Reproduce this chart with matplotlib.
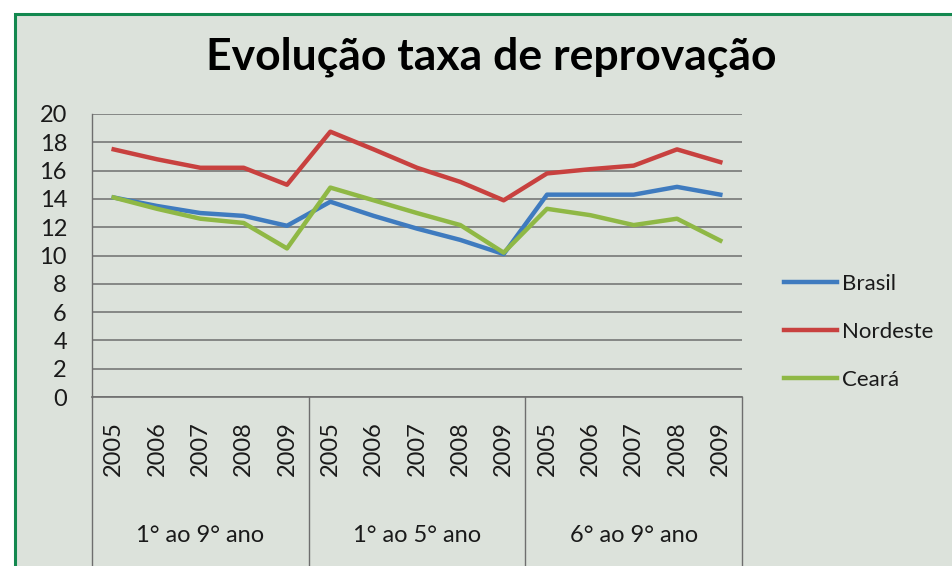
import matplotlib
matplotlib.use("Agg")
import matplotlib.pyplot as plt
import matplotlib.transforms as mtransforms
from matplotlib.patches import Rectangle

years = ["2005", "2006", "2007", "2008", "2009"]
groups = ["1° ao 9° ano", "1° ao 5° ano", "6° ao 9° ano"]
brasil = [14.1, 13.5, 13.0, 12.8, 12.1,
          13.8, 12.8, 11.9, 11.1, 10.1,
          14.3, 14.3, 14.3, 14.85, 14.3]
nordeste = [17.5, 16.8, 16.2, 16.2, 15.0,
            18.75, 17.5, 16.2, 15.2, 13.9,
            15.8, 16.1, 16.35, 17.5, 16.6]
ceara = [14.1, 13.3, 12.6, 12.3, 10.5,
         14.8, 13.9, 13.0, 12.15, 10.2,
         13.3, 12.85, 12.15, 12.6, 11.05]
yticks = [0, 2, 4, 6, 8, 10, 12, 14, 16, 18, 20]

FONT = ["Lato", "DejaVu Sans"]
plt.rcParams["font.family"] = FONT

W, H = 953, 566
fig = plt.figure(figsize=(W / 100, H / 100), dpi=100)
fig.patch.set_facecolor("white")

bg = "#dce2db"
frame = Rectangle((15 / W, -0.1), 1.2, (H - 14) / H + 0.1,
                  transform=fig.transFigure, facecolor=bg,
                  edgecolor="#13884f", linewidth=2.2, zorder=-10)
fig.patches.append(frame)

left, right = 92, 742
top, bottom = 114, 397
ax = fig.add_axes([left / W, (H - bottom) / H, (right - left) / W, (bottom - top) / H])
ax.set_facecolor("none")
ax.set_zorder(5)

n = len(groups) * len(years)
xs = list(range(n))
ax.plot(xs, brasil, color="#3f7bbf", lw=3.2, label="Brasil", solid_joinstyle="round")
ax.plot(xs, nordeste, color="#c8413f", lw=3.2, label="Nordeste", solid_joinstyle="round")
ax.plot(xs, ceara, color="#8fb845", lw=3.2, label="Ceará", solid_joinstyle="round")

ax.set_xlim(-0.5, n - 0.5)
ax.set_ylim(0, 20)
ax.set_yticks(yticks)
ax.set_yticklabels([str(v) for v in yticks], fontsize=17, color="#1a1a1a")
ax.tick_params(axis="y", length=0, pad=18)
ax.set_xticks([])
ax.grid(axis="y", color="#6e6e6e", lw=1.1)
ax.set_axisbelow(True)
for s in ["top", "right", "bottom"]:
    ax.spines[s].set_visible(False)
ax.spines["left"].set_color("#6e6e6e")
ax.spines["left"].set_linewidth(1.0)

trans = mtransforms.blended_transform_factory(ax.transData, ax.transAxes)
ax.plot([-0.5, n - 0.5], [0, 0], transform=trans, color="#6e6e6e", lw=1.2, clip_on=False)
for g in range(len(groups) + 1):
    xb = g * len(years) - 0.5
    ax.plot([xb, xb], [0, -0.62], transform=trans, color="#6e6e6e", lw=1.0, clip_on=False)

pad_axes = 24 / (bottom - top)
for i in range(n):
    ax.text(xs[i], -pad_axes, years[i % len(years)], transform=trans, rotation=90,
            ha="center", va="top", fontsize=17, color="#1a1a1a")
for g, name in enumerate(groups):
    xc = g * len(years) + (len(years) - 1) / 2
    ax.text(xc, -(535 - bottom) / (bottom - top), name, transform=trans,
            ha="center", va="center", fontsize=17, color="#1a1a1a")

fig.text(491 / W, 1 - 57 / H, "Evolução taxa de reprovação", ha="center", va="center",
         fontsize=32, fontweight="bold", color="black")

leg = ax.legend(loc="center left", bbox_to_anchor=(784 / W, 1 - 332 / H),
                bbox_transform=fig.transFigure, frameon=False, fontsize=16,
                handlelength=2.4, handletextpad=0.2, labelspacing=1.25,
                borderaxespad=0, borderpad=0)
for t in leg.get_texts():
    t.set_color("#1a1a1a")

fig.savefig("out.png", dpi=100, facecolor=fig.get_facecolor())
